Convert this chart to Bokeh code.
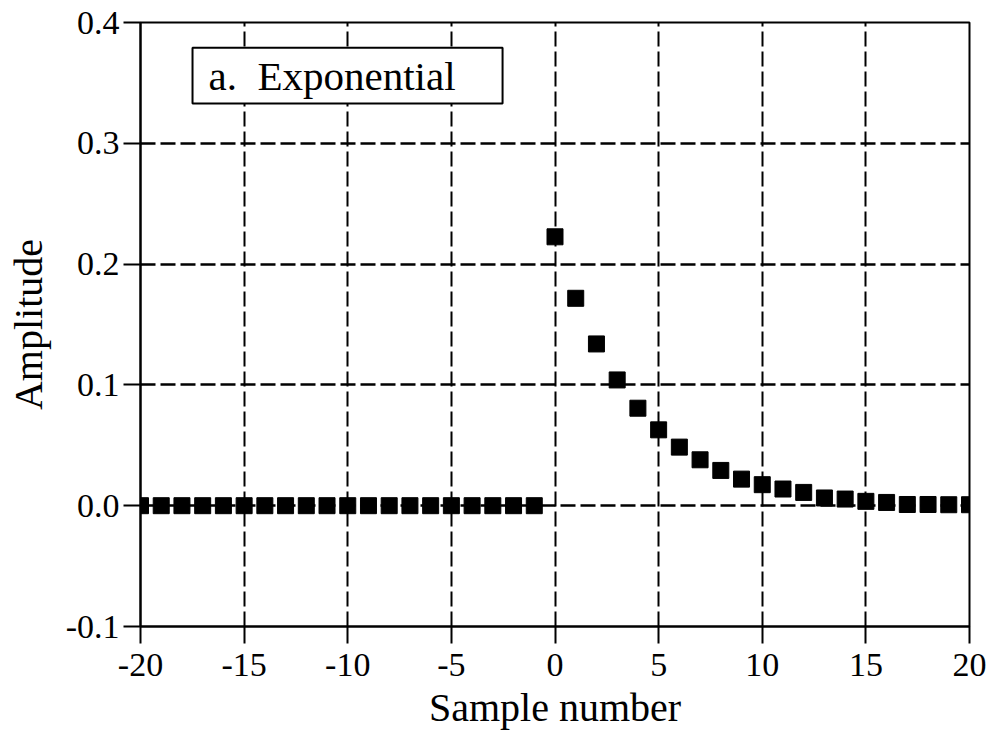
from bokeh.plotting import figure
from bokeh.models import Range1d, FixedTicker, PrintfTickFormatter, BoxAnnotation, Label
from bokeh.embed import file_html
from bokeh.resources import INLINE

# Data
sample_number = list(range(-20, 21))
amplitude = [0.0] * 20 + [
    0.2226, 0.1717, 0.1339, 0.1041, 0.0807, 0.0628, 0.0485, 0.0380,
    0.0292, 0.0220, 0.0174, 0.0138, 0.0110, 0.0064, 0.0055, 0.0036,
    0.0027, 0.0010, 0.0010, 0.0008, 0.0008,
]
x_ticks = [-20, -15, -10, -5, 0, 5, 10, 15, 20]
y_ticks = [-0.1, 0.0, 0.1, 0.2, 0.3, 0.4]
title_text = "a.\u00a0\u00a0Exponential"

FONT = "Liberation Serif"

p = figure(width=987, height=733, output_backend="svg", toolbar_location=None,
           x_range=Range1d(-20, 20), y_range=Range1d(-0.1, 0.4),
           min_border_left=140, min_border_right=18, min_border_top=22,
           min_border_bottom=107)
p.background_fill_color = "white"
p.border_fill_color = "white"
p.outline_line_color = "black"
p.outline_line_width = 2
p.outline_line_alpha = 1

p.scatter(sample_number, amplitude, marker="square", size=16,
          fill_color="black", line_color="black")

for ax in (p.xaxis[0], p.yaxis[0]):
    ax.axis_line_color = "black"
    ax.axis_line_width = 2
    ax.major_tick_line_color = "black"
    ax.major_tick_line_width = 2
    ax.major_tick_out = 17
    ax.major_tick_in = 0
    ax.minor_tick_line_color = None
    ax.major_label_text_font = FONT
    ax.major_label_text_font_size = "34px"
    ax.major_label_text_color = "black"
    ax.axis_label_text_font = FONT
    ax.axis_label_text_font_size = "40px"
    ax.axis_label_text_font_style = "normal"
    ax.axis_label_text_color = "black"

p.xaxis[0].ticker = FixedTicker(ticks=x_ticks)
p.yaxis[0].ticker = FixedTicker(ticks=y_ticks)
p.xaxis[0].formatter = PrintfTickFormatter(format="%d")
p.yaxis[0].formatter = PrintfTickFormatter(format="%.1f")
p.xaxis[0].axis_label = "Sample number"
p.yaxis[0].axis_label = "Amplitude"
p.xaxis[0].major_label_standoff = 10
p.yaxis[0].major_label_standoff = 4
p.xaxis[0].axis_label_standoff = 6
p.yaxis[0].axis_label_standoff = 12

for g in (p.xgrid[0], p.ygrid[0]):
    g.grid_line_color = "black"
    g.grid_line_width = 2
    g.grid_line_dash = "15 5"
    g.grid_line_alpha = 1
p.ygrid[0].grid_line_width = 2.5
p.xgrid[0].ticker = FixedTicker(ticks=x_ticks)
p.ygrid[0].ticker = FixedTicker(ticks=y_ticks)

box = BoxAnnotation(left=-17.49, right=-2.53, top=0.379, bottom=0.333,
                    fill_color="white", fill_alpha=1, line_color="black",
                    line_width=2, line_alpha=1)
p.add_layout(box)
lbl = Label(x=-16.72, y=0.3555, text=title_text, text_font=FONT,
            text_font_size="41px", text_color="black",
            text_align="left", text_baseline="middle")
p.add_layout(lbl)

open("out.html", "w").write(file_html(p, INLINE))
